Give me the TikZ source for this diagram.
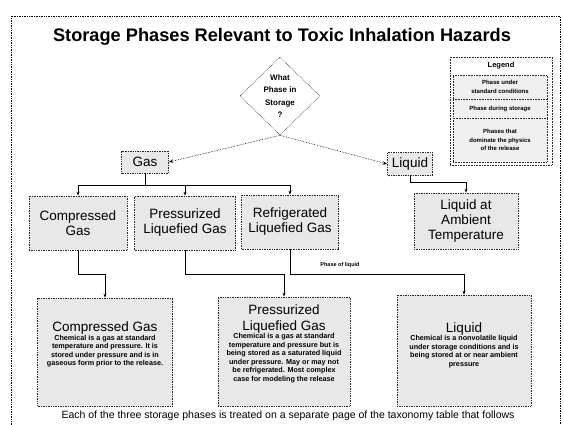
\documentclass[tikz,border=0pt]{standalone}
\usepackage{fontspec}
\setmainfont{Liberation Sans}
\usetikzlibrary{shapes.geometric,arrows.meta}
\tikzset{
  box/.style={draw=black!85, densely dotted, line width=0.7pt, fill=black!9, align=flush center, inner sep=1pt},
  legbox/.style={draw=black!85, densely dotted, line width=0.6pt, fill=black!6, align=center, inner sep=1pt, font=\fontsize{6}{8.5}\selectfont\bfseries},
  conn/.style={line width=0.6pt, -{Stealth[length=4pt,width=3pt]}},
  dconn/.style={line width=0.6pt, densely dotted, -{Stealth[length=4.5pt,width=3.5pt]}},
  midtxt/.style={font=\fontsize{13.5}{15}\selectfont},
}
\newcommand{\headtxt}{\fontsize{13.5}{15.5}\selectfont}
\newcommand{\smalltxt}{\fontsize{7.2}{8.5}\selectfont\bfseries}
\begin{document}
\begin{tikzpicture}[x=1pt,y=-1pt]
\useasboundingbox (0,0) rectangle (564,424);
% outer frame
\draw[densely dotted, line width=0.7pt] (11,430) -- (11,16) -- (560,16) -- (560,430);
% title
\node[font=\fontsize{18.2}{20}\selectfont\bfseries] (title) at (282,37) {Storage Phases Relevant to Toxic Inhalation Hazards};
% decision
\node[diamond, draw=black!85, densely dotted, line width=0.6pt, minimum width=80pt, minimum height=78pt, inner sep=0pt, align=center, font=\fontsize{8}{12.5}\selectfont\bfseries] (q) at (280,96) {What\\Phase in\\Storage\\?};
% legend
\node[draw=black!85, densely dotted, line width=0.6pt, minimum width=102pt, minimum height=108pt, fill=white] (legend) at (501,111) {};
\node[font=\fontsize{7.5}{8}\selectfont\bfseries] (legt) at (501,66) {Legend};
\node[legbox, minimum width=94pt, minimum height=24pt] (leg1) at (500,87) {Phase under\\standard conditions};
\node[legbox, minimum width=94pt, minimum height=19pt] (leg2) at (500,108.5) {Phase during storage};
\node[legbox, minimum width=94pt, minimum height=44pt] (leg3) at (500,140) {Phases that\\dominate the physics\\of the release};
% phases under standard conditions
\node[box, minimum width=47pt, minimum height=22pt, midtxt] (gas) at (145,162) {Gas};
\node[box, minimum width=45pt, minimum height=23pt, midtxt] (liquid) at (410,164) {Liquid};
% storage phases
\node[box, minimum width=98pt, minimum height=54pt, midtxt] (cg) at (78,223) {Compressed\\Gas};
\node[box, minimum width=101pt, minimum height=54pt, midtxt] (plg) at (185,223) {Pressurized\\Liquefied Gas};
\node[box, minimum width=97pt, minimum height=54pt, midtxt] (rlg) at (290,222) {Refrigerated\\Liquefied Gas};
\node[box, minimum width=104pt, minimum height=56pt, midtxt] (lat) at (466,221) {Liquid at\\Ambient\\Temperature};
% release phases
\node[box, minimum width=135pt, minimum height=108pt, text width=130pt] (b1) at (105,352) {\headtxt Compressed Gas\par
  \smalltxt Chemical is a gas at standard\\ temperature and pressure. It is\\ stored under pressure and is in\\ gaseous form prior to the release.\par\rule{0pt}{14pt}};
\node[box, minimum width=132pt, minimum height=109pt, text width=127pt] (b2) at (284,351.5) {\headtxt Pressurized\\ Liquefied Gas\par
  \smalltxt Chemical is a gas at standard\\ temperature and pressure but is\\ being stored as a saturated liquid\\ under pressure. May or may not\\ be refrigerated. Most complex\\ case for modeling the release\par\rule{0pt}{14pt}};
\node[box, minimum width=134pt, minimum height=111pt, text width=129pt] (b3) at (464,350.5) {\headtxt Liquid\par
  \smalltxt Chemical is a nonvolatile liquid\\ under storage conditions and is\\ being stored at or near ambient\\ pressure\par\rule{0pt}{8pt}};
% footer
\node[font=\fontsize{10.5}{12}\selectfont] (foot) at (288,416) {Each of the three storage phases is treated on a separate page of the taxonomy table that follows};
% bus coordinates
\coordinate (gbus) at (145,185);
\coordinate (lbus) at (410,182);
\coordinate (cgbus) at (78,274);
\coordinate (plgbus) at (185,274);
\coordinate (rlgbus) at (290,274);
% connectors
\draw[dconn] (q.south) -- (gas.east);
\draw[dconn] (q.south) -- (liquid.west);
\draw[conn] (gas.south) -- (gbus) -| (cg.north);
\draw[conn] (gbus) -| (plg.north);
\draw[conn] (gbus) -| (rlg.north);
\draw[conn] (liquid.south) -- (lbus) -| (lat.north);
\draw[conn] (cg.south) -- (cgbus) -| (b1.north);
\draw[conn] (plg.south) -- (plgbus) -| (b2.north);
\draw[conn] (rlg.south) -- (rlgbus) -| (b3.north);
\node[font=\fontsize{5.5}{7}\selectfont\bfseries, anchor=south] (pol) at (340,271) {Phase of liquid};
\end{tikzpicture}
\end{document}
